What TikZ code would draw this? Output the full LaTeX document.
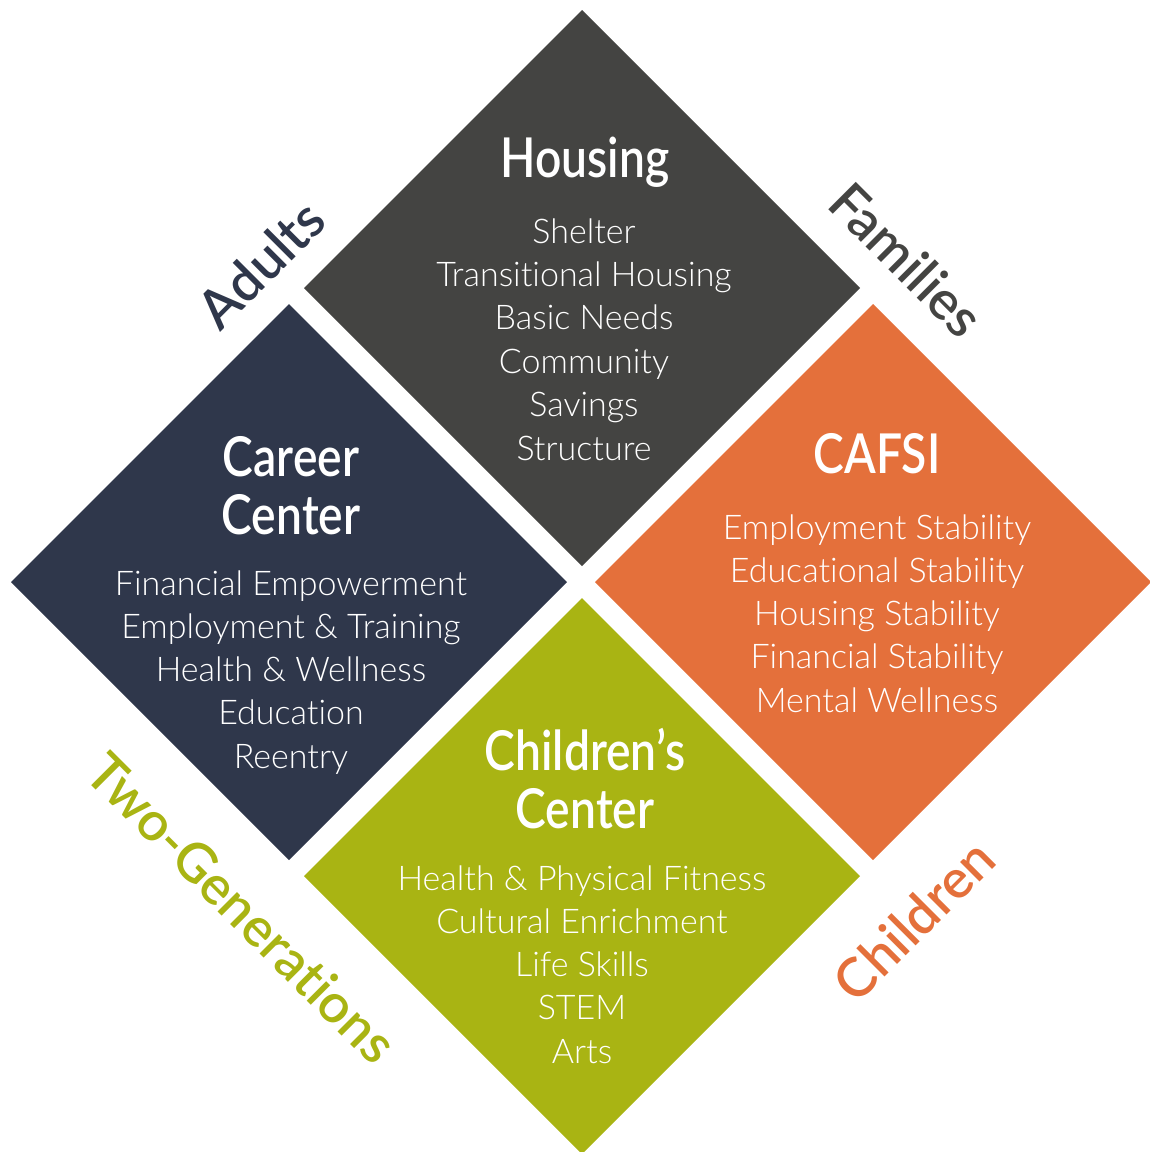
\documentclass[tikz,border=0pt]{standalone}
\usepackage{fontspec}
\setmainfont{Lato}
\newfontfamily\itemfont{Lato Light}[Ligatures=NoCommon]
\newfontfamily\titlefont{Lato Semibold}[FakeStretch=0.84, Ligatures=NoCommon]
\newfontfamily\tagfont{Lato Semibold}[Ligatures=NoCommon]
\usetikzlibrary{shapes.geometric}
\definecolor{housegray}{HTML}{444442}
\definecolor{careernavy}{HTML}{2F374B}
\definecolor{cafsiorange}{HTML}{E4703B}
\definecolor{kidsgreen}{HTML}{A9B413}
\begin{document}
\begin{tikzpicture}[x=1pt,y=-1pt,
  block/.style={diamond, aspect=1, inner sep=0pt, outer sep=0pt,
    minimum width=556pt, minimum height=556pt, draw=none},
  heading/.style={text=white, font=\titlefont\fontsize{55}{58}\selectfont,
    anchor=base, inner sep=0pt},
  entry/.style={text=white, font=\itemfont\fontsize{34}{43}\selectfont,
    anchor=base, inner sep=0pt},
  tag/.style={font=\tagfont\fontsize{54}{54}\selectfont, inner sep=0pt}]
\path[use as bounding box] (0,0) rectangle (1150,1152);

% the four program blocks
\node[block, fill=housegray]   (housing) at (582,288) {};
\node[block, fill=careernavy]  (career)  at (289,582) {};
\node[block, fill=cafsiorange] (cafsi)   at (873,582) {};
\node[block, fill=kidsgreen]   (kids)    at (582,876) {};

% Housing
\node[heading] (housing-title) at (585,177) {Housing};
\foreach \t [count=\i] in {Shelter, Transitional Housing, Basic Needs, Community, Savings, Structure}
  \node[entry] (housing-\i) at (584,{243+43.4*(\i-1)}) {\t};

% Career Center
\node[heading] (career-title1) at (291,476) {Career};
\node[heading] (career-title2) at (291,534) {Center};
\foreach \t [count=\i] in {Financial Empowerment, Employment \& Training, Health \& Wellness, Education, Reentry}
  \node[entry] (career-\i) at (291,{595+43.3*(\i-1)}) {\t};

% CAFSI
\node[heading] (cafsi-title) at (877,473) {CAFSI};
\foreach \t [count=\i] in {Employment Stability, Educational Stability, Housing Stability, Financial Stability, Mental Wellness}
  \node[entry] (cafsi-\i) at (877,{539+43.3*(\i-1)}) {\t};

% Children's Center
\node[heading] (kids-title1) at (585,770) {Children’s};
\node[heading] (kids-title2) at (585,828) {Center};
\foreach \t [count=\i] in {Health \& Physical Fitness, Cultural Enrichment, Life Skills, STEM, Arts}
  \node[entry] (kids-\i) at (582,{890+43.3*(\i-1)}) {\t};

% audience tags along the outer edges
\node[tag, text=careernavy, rotate=45]   (adults)   at (261,264) {Adults};
\node[tag, text=housegray, rotate=-45]   (families) at (907,260) {Families};
\node[tag, text=kidsgreen, rotate=-45]   (twogen)   at (242,908) {Two-Generations};
\node[tag, text=cafsiorange, rotate=45]  (children) at (914,920) {Children};
\end{tikzpicture}
\end{document}
